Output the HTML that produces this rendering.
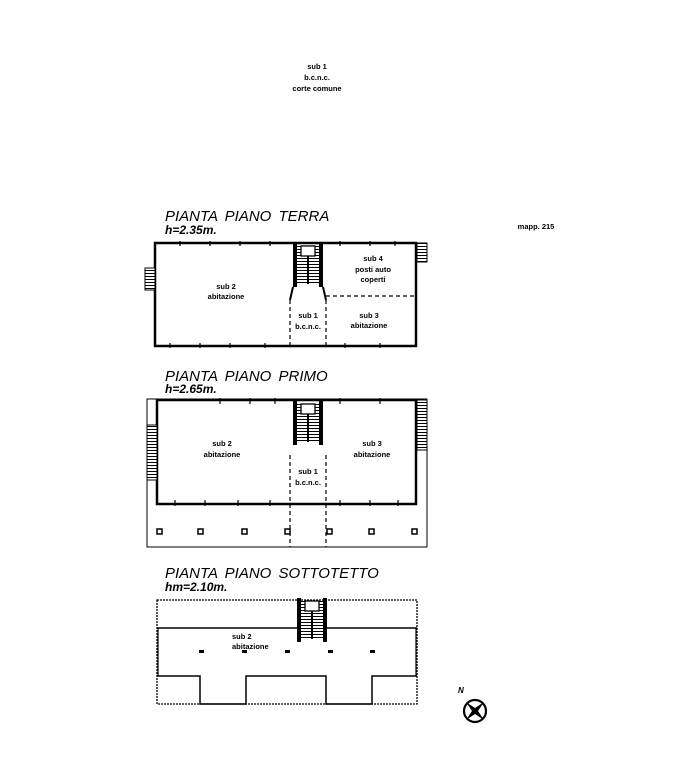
<!DOCTYPE html>
<html><head><meta charset="utf-8"><style>
html,body{margin:0;padding:0;background:#fff}
svg{display:block}
text{font-family:"Liberation Sans",sans-serif;fill:#000}
.t{font-style:italic;font-size:15px;word-spacing:3px}
.h{font-style:italic;font-size:12px;font-weight:bold}
.s{font-size:7.5px;font-weight:bold}
</style></head><body>
<svg width="682" height="768" viewBox="0 0 682 768" xmlns="http://www.w3.org/2000/svg">
<defs>
<pattern id="hz" width="4" height="3" patternUnits="userSpaceOnUse"><rect width="4" height="3" fill="#fff"/><line x1="0" y1="0.5" x2="4" y2="0.5" stroke="#000" stroke-width="1"/></pattern>
<g id="stair">
<rect x="0" y="0" width="4" height="44" fill="#000"/>
<rect x="26" y="0" width="4" height="44" fill="#000"/>
<rect x="4" y="3" width="22" height="38" fill="url(#hz)"/>
<line x1="15" y1="6" x2="15" y2="41" stroke="#000" stroke-width="2"/>
<rect x="8" y="3" width="14" height="10" fill="#fff" stroke="#000" stroke-width="1.3"/>
</g>
</defs>

<text class="s" x="317" y="69" text-anchor="middle">sub 1</text>
<text class="s" x="317" y="80" text-anchor="middle">b.c.n.c.</text>
<text class="s" x="317" y="91" text-anchor="middle">corte comune</text>
<text class="s" x="536" y="229" text-anchor="middle">mapp. 215</text>

<!-- TERRA -->
<text class="t" x="165" y="221">PIANTA PIANO TERRA</text>
<text class="h" x="165" y="234">h=2.35m.</text>
<rect x="155" y="243" width="261" height="103" fill="none" stroke="#000" stroke-width="2.5"/>
<g stroke="#000" stroke-width="1.2">
<line x1="180" y1="241" x2="180" y2="246"/><line x1="210" y1="241" x2="210" y2="246"/><line x1="240" y1="241" x2="240" y2="246"/><line x1="270" y1="241" x2="270" y2="246"/><line x1="340" y1="241" x2="340" y2="246"/><line x1="370" y1="241" x2="370" y2="246"/><line x1="395" y1="241" x2="395" y2="246"/>
<line x1="170" y1="343" x2="170" y2="348"/><line x1="200" y1="343" x2="200" y2="348"/><line x1="230" y1="343" x2="230" y2="348"/><line x1="265" y1="343" x2="265" y2="348"/><line x1="345" y1="343" x2="345" y2="348"/><line x1="380" y1="343" x2="380" y2="348"/>
</g>
<use href="#stair" x="293" y="243"/>
<line x1="293" y1="287" x2="290" y2="300" stroke="#000" stroke-width="2"/>
<line x1="323" y1="287" x2="326" y2="300" stroke="#000" stroke-width="2"/>
<g stroke="#000" stroke-width="1.2" stroke-dasharray="4,3" fill="none">
<line x1="326" y1="296" x2="415" y2="296"/>
<line x1="290" y1="300" x2="290" y2="345"/>
<line x1="326" y1="300" x2="326" y2="345"/>
</g>
<rect x="145" y="268" width="10" height="22" fill="url(#hz)" stroke="#000"/>
<rect x="417" y="243" width="10" height="19" fill="url(#hz)" stroke="#000"/>
<text class="s" x="226" y="289" text-anchor="middle">sub 2</text>
<text class="s" x="226" y="299" text-anchor="middle">abitazione</text>
<text class="s" x="373" y="261" text-anchor="middle">sub 4</text>
<text class="s" x="373" y="272" text-anchor="middle">posti auto</text>
<text class="s" x="373" y="282" text-anchor="middle">coperti</text>
<text class="s" x="308" y="318" text-anchor="middle">sub 1</text>
<text class="s" x="308" y="329" text-anchor="middle">b.c.n.c.</text>
<text class="s" x="369" y="318" text-anchor="middle">sub 3</text>
<text class="s" x="369" y="328" text-anchor="middle">abitazione</text>

<!-- PRIMO -->
<text class="t" x="165" y="381">PIANTA PIANO PRIMO</text>
<text class="h" x="165" y="393">h=2.65m.</text>
<rect x="147" y="399" width="280" height="148" fill="none" stroke="#000" stroke-width="1"/>
<rect x="157" y="400" width="259" height="104" fill="none" stroke="#000" stroke-width="2.5"/>
<g stroke="#000" stroke-width="1.2">
<line x1="220" y1="398" x2="220" y2="404"/><line x1="250" y1="398" x2="250" y2="404"/><line x1="275" y1="398" x2="275" y2="404"/><line x1="340" y1="398" x2="340" y2="404"/><line x1="380" y1="398" x2="380" y2="404"/>
<line x1="175" y1="500" x2="175" y2="506"/><line x1="205" y1="500" x2="205" y2="506"/><line x1="238" y1="500" x2="238" y2="506"/><line x1="270" y1="500" x2="270" y2="506"/><line x1="340" y1="500" x2="340" y2="506"/><line x1="370" y1="500" x2="370" y2="506"/><line x1="398" y1="500" x2="398" y2="506"/>
</g>
<use href="#stair" x="293" y="401"/>
<g stroke="#000" stroke-width="1.2" stroke-dasharray="4,3" fill="none">
<line x1="290" y1="455" x2="290" y2="547"/>
<line x1="326" y1="455" x2="326" y2="547"/>
</g>
<rect x="147" y="425" width="10" height="55" fill="url(#hz)" stroke="#000"/>
<rect x="417" y="400" width="10" height="50" fill="url(#hz)" stroke="#000"/>
<g fill="none" stroke="#000" stroke-width="1.5">
<rect x="157" y="529" width="5" height="5"/><rect x="198" y="529" width="5" height="5"/><rect x="242" y="529" width="5" height="5"/><rect x="285" y="529" width="5" height="5"/><rect x="327" y="529" width="5" height="5"/><rect x="369" y="529" width="5" height="5"/><rect x="412" y="529" width="5" height="5"/>
</g>
<text class="s" x="222" y="446" text-anchor="middle">sub 2</text>
<text class="s" x="222" y="457" text-anchor="middle">abitazione</text>
<text class="s" x="372" y="446" text-anchor="middle">sub 3</text>
<text class="s" x="372" y="457" text-anchor="middle">abitazione</text>
<text class="s" x="308" y="474" text-anchor="middle">sub 1</text>
<text class="s" x="308" y="485" text-anchor="middle">b.c.n.c.</text>

<!-- SOTTOTETTO -->
<text class="t" x="165" y="578">PIANTA PIANO SOTTOTETTO</text>
<text class="h" x="165" y="591">hm=2.10m.</text>
<rect x="157" y="600" width="260" height="104" fill="none" stroke="#000" stroke-width="1.3" stroke-dasharray="2,1"/>
<line x1="157" y1="628" x2="417" y2="628" stroke="#000" stroke-width="1.5"/>
<line x1="158" y1="628" x2="158" y2="676" stroke="#000" stroke-width="1.2"/>
<line x1="416" y1="628" x2="416" y2="676" stroke="#000" stroke-width="1.2"/>
<polyline points="157,676 200,676 200,704 246,704 246,676 326,676 326,704 372,704 372,676 417,676" fill="none" stroke="#000" stroke-width="1.5"/>
<use href="#stair" x="297" y="598"/>
<g fill="#000">
<rect x="199" y="650" width="5" height="3"/><rect x="242" y="650" width="5" height="3"/><rect x="285" y="650" width="5" height="3"/><rect x="328" y="650" width="5" height="3"/><rect x="370" y="650" width="5" height="3"/>
</g>
<text class="s" x="232" y="639">sub 2</text>
<text class="s" x="232" y="649">abitazione</text>

<!-- compass -->
<text x="458" y="693" style="font-size:8px;font-style:italic;font-weight:bold">N</text>
<circle cx="475" cy="711" r="11" fill="none" stroke="#000" stroke-width="2.2"/>
<path d="M466,702 L475,708 L484,702 L478,711 L484,720 L475,714 L466,720 L472,711 Z" fill="#000"/>
</svg>
</body></html>
